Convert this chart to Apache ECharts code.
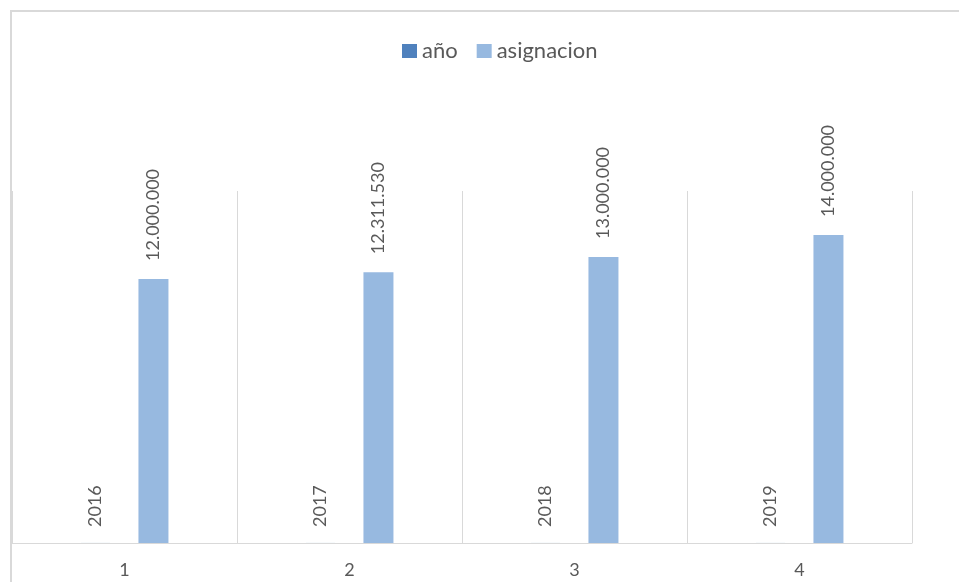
<!DOCTYPE html>
<html>
<head>
<meta charset="utf-8">
<script src="https://cdn.jsdelivr.net/npm/echarts@6/dist/echarts.min.js"></script>
<style>
html,body{margin:0;padding:0;background:#fff;}
#chart{width:959px;height:582px;}
</style>
</head>
<body>
<div id="chart"></div>
<script>
var categories = ['1', '2', '3', '4'];
var anio = [2016, 2017, 2018, 2019];
var asignacion = [12000000, 12311530, 13000000, 14000000];
var seriesNames = ['año', 'asignacion'];

function fmt(v) {
  return String(v).replace(/\B(?=(\d{3})+(?!\d))/g, '.');
}

var chart = echarts.init(document.getElementById('chart'), null, {renderer: 'canvas'});
var labelFont = {color: '#595959', fontFamily: 'Lato', fontSize: 18};

chart.setOption({
  animation: false,
  backgroundColor: '#ffffff',
  graphic: [{
    type: 'rect',
    shape: {x: 11, y: 11, width: 1200, height: 1200},
    style: {fill: 'none', stroke: '#d9d9d9', lineWidth: 2},
    silent: true,
    z: -10
  }],
  legend: {
    data: seriesNames,
    left: 397,
    top: 35,
    itemWidth: 15,
    itemHeight: 14,
    itemGap: 19,
    icon: 'rect',
    textStyle: {color: '#595959', fontFamily: 'Lato', fontSize: 22, padding: [0, 0, 0, 0]}
  },
  grid: {left: 12, right: 47, top: 191, bottom: 39, containLabel: false},
  xAxis: {
    type: 'category',
    data: categories,
    boundaryGap: true,
    axisLine: {show: true, lineStyle: {color: '#d9d9d9', width: 1}},
    axisTick: {show: false},
    splitLine: {show: true, interval: 0, lineStyle: {color: '#d9d9d9', width: 1}},
    axisLabel: {color: '#595959', fontFamily: 'Lato', fontSize: 18, margin: 18}
  },
  yAxis: {
    type: 'value',
    min: 0,
    max: 16000000,
    show: false,
    splitLine: {show: false}
  },
  series: [
    {
      name: seriesNames[0],
      type: 'bar',
      data: anio,
      barWidth: 30,
      barGap: '93%',
      itemStyle: {color: '#4F81BD'},
      label: Object.assign({
        show: true,
        position: 'top',
        rotate: 90,
        align: 'left',
        verticalAlign: 'middle',
        distance: 16,
        formatter: function (p) { return String(p.value); }
      }, labelFont)
    },
    {
      name: seriesNames[1],
      type: 'bar',
      data: asignacion,
      barWidth: 30,
      itemStyle: {color: '#97B9E0'},
      label: Object.assign({
        show: true,
        position: 'top',
        rotate: 90,
        align: 'left',
        verticalAlign: 'middle',
        distance: 18,
        formatter: function (p) { return fmt(p.value); }
      }, labelFont)
    }
  ]
});
</script>
</body>
</html>
